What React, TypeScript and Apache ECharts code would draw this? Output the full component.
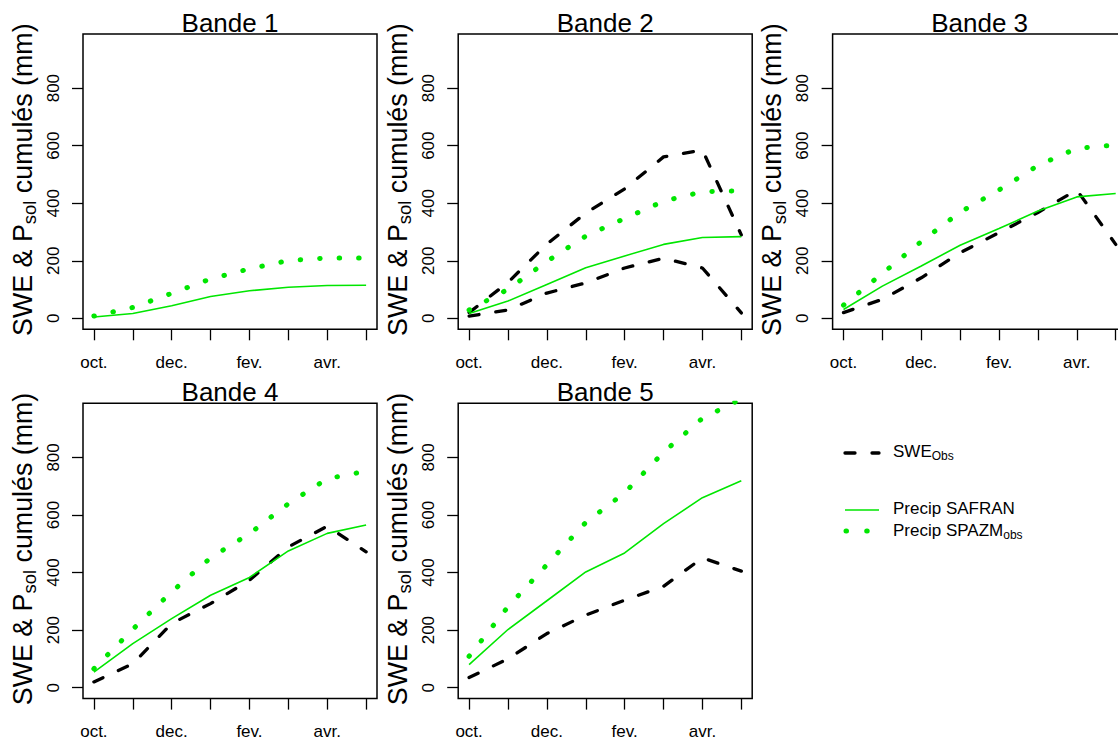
import React, { useEffect, useRef } from 'react';
import * as echarts from 'echarts';

// ---------- data ----------
const monthLabels = ['oct.', 'nov.', 'dec.', 'janv.', 'fev.', 'mars', 'avr.', 'mai'];
const monthIdx = [0, 1, 2, 3, 4, 5, 6, 7];
const shownMonthIdx = [0, 2, 4, 6];
const yTicks = [0, 200, 400, 600, 800];
const bandTitles = ['Bande 1', 'Bande 2', 'Bande 3', 'Bande 4', 'Bande 5'];

const band1Safran = [5, 17, 44, 76, 96, 108, 114, 115];
const band1Spazm = [8, 38, 87, 137, 172, 201, 210, 210];

const band2SweA = [20, 125, 258, 366, 450, 561, 585, 290];
const band2SweB = [8, 29, 88, 123, 175, 209, 175, 19];
const band2Safran = [17, 60, 118, 176, 217, 257, 281, 284];
const band2Spazm = [29, 101, 198, 286, 347, 407, 440, 443];

const band3Swe = [20, 66, 141, 228, 298, 368, 446, 257];
const band3Safran = [31, 112, 182, 254, 312, 373, 422, 434];
const band3Spazm = [46, 156, 267, 369, 446, 531, 591, 602];

const band4Swe = [20, 83, 223, 292, 373, 489, 561, 472];
const band4Safran = [54, 153, 240, 321, 383, 475, 536, 565];
const band4Spazm = [66, 203, 333, 451, 535, 639, 726, 752];

const band5Swe = [35, 100, 188, 252, 304, 352, 451, 405];
const band5Safran = [80, 202, 302, 402, 468, 570, 660, 719];
const band5Spazm = [109, 281, 427, 574, 677, 818, 936, 1003];

const bandSwe = [[], [band2SweA, band2SweB], [band3Swe], [band4Swe], [band5Swe]];
const bandSafran = [band1Safran, band2Safran, band3Safran, band4Safran, band5Safran];
const bandSpazm = [band1Spazm, band2Spazm, band3Spazm, band4Spazm, band5Spazm];

const legendLabels = ['SWE', 'Obs', 'Precip SAFRAN', 'Precip SPAZM', 'obs'];

// ---------- layout / style ----------
const FONT = '"Liberation Sans", Arial, Helvetica, sans-serif';
const GREEN = '#00e600';
const X_MIN = -0.28;
const X_MAX = 7.28;
const Y_MIN = -38;
const Y_MAX = 988;
const BOX_W = 294;
const BOX_H = 295.3;
const colLefts = [83, 458.2, 832.6];
const rowTops = [34, 403.3];
const panelPos = [
  [0, 0],
  [0, 1],
  [0, 2],
  [1, 0],
  [1, 1],
];

const dashStyle = { color: '#000', width: 3.3, type: [10, 17], cap: 'round' };
const dotStyle = { color: GREEN, width: 5, type: [0.5, 19], cap: 'round' };
const solidStyle = { color: GREEN, width: 1.6, type: 'solid' };

function pairs(vals: number[]) {
  return vals.map((v, i) => [monthIdx[i], v]);
}

function buildOption() {
  const grid: any[] = [];
  const xAxis: any[] = [];
  const yAxis: any[] = [];
  const series: any[] = [];
  const graphic: any[] = [];

  panelPos.forEach(([r, c], i) => {
    const left = colLefts[c];
    const top = rowTops[r];
    grid.push({
      left,
      top,
      width: BOX_W,
      height: BOX_H,
      show: true,
      borderColor: '#000',
      borderWidth: 1.5,
      backgroundColor: 'transparent',
      containLabel: false,
      outerBoundsMode: 'none',
    });
    xAxis.push({
      gridIndex: i,
      type: 'value',
      min: X_MIN,
      max: X_MAX,
      axisLine: { show: false, onZero: false },
      splitLine: { show: false },
      axisTick: {
        show: true,
        inside: false,
        length: 11,
        lineStyle: { color: '#000', width: 1.3 },
        customValues: monthIdx,
      },
      axisLabel: {
        customValues: shownMonthIdx,
        formatter: (v: number) => monthLabels[Math.round(v)],
        fontSize: 17,
        fontFamily: FONT,
        color: '#000',
        margin: 24.5,
      },
    });
    yAxis.push({
      gridIndex: i,
      type: 'value',
      min: Y_MIN,
      max: Y_MAX,
      axisLine: { show: false, onZero: false },
      splitLine: { show: false },
      axisTick: {
        show: true,
        inside: false,
        length: 11,
        lineStyle: { color: '#000', width: 1.3 },
        customValues: yTicks,
      },
      axisLabel: {
        customValues: yTicks,
        rotate: 90,
        fontSize: 17,
        fontFamily: FONT,
        color: '#000',
        margin: 21.5,
      },
    });

    bandSwe[i].forEach((vals) => {
      series.push({
        type: 'line',
        xAxisIndex: i,
        yAxisIndex: i,
        data: pairs(vals),
        showSymbol: false,
        symbol: 'none',
        lineStyle: dashStyle,
        z: 2,
      });
    });
    series.push({
      type: 'line',
      xAxisIndex: i,
      yAxisIndex: i,
      data: pairs(bandSafran[i]),
      showSymbol: false,
      symbol: 'none',
      lineStyle: solidStyle,
      z: 3,
    });
    series.push({
      type: 'line',
      xAxisIndex: i,
      yAxisIndex: i,
      data: pairs(bandSpazm[i]),
      showSymbol: false,
      symbol: 'none',
      lineStyle: dotStyle,
      z: 3,
    });

    // title
    graphic.push({
      type: 'text',
      x: left + BOX_W / 2,
      y: top - 11.5,
      style: {
        text: bandTitles[i],
        fontSize: 26,
        fontFamily: FONT,
        fill: '#000',
        align: 'center',
        verticalAlign: 'middle',
      },
    });
    // y-axis title
    graphic.push({
      type: 'text',
      x: left - 60.5,
      y: top + BOX_H / 2 - 2,
      rotation: Math.PI / 2,
      style: {
        text: '{a|SWE & P}{s|sol}{a| cumulés (mm)}',
        fontFamily: FONT,
        fill: '#000',
        align: 'center',
        verticalAlign: 'middle',
        rich: {
          a: { fontSize: 26.8, lineHeight: 33, fontFamily: FONT, fill: '#000' },
          s: { fontSize: 18.5, lineHeight: 18.5, verticalAlign: 'bottom', fontFamily: FONT, fill: '#000' },
        },
      },
    });
  });

  // legend
  const legRich = {
    a: { fontSize: 17, lineHeight: 22, fontFamily: FONT, fill: '#000' },
    s: { fontSize: 12, lineHeight: 12, verticalAlign: 'bottom', fontFamily: FONT, fill: '#000' },
  };
  graphic.push(
    {
      type: 'line',
      shape: { x1: 845, y1: 453, x2: 879, y2: 453 },
      style: { stroke: '#000', lineWidth: 3.3, lineDash: [10, 17], lineCap: 'round' },
    },
    {
      type: 'text',
      x: 893,
      y: 451,
      style: {
        text: `{a|${legendLabels[0]}}{s|${legendLabels[1]}}`,
        rich: legRich,
        align: 'left',
        verticalAlign: 'middle',
      },
    },
    {
      type: 'line',
      shape: { x1: 845, y1: 510, x2: 879, y2: 510 },
      style: { stroke: GREEN, lineWidth: 1.6 },
    },
    {
      type: 'text',
      x: 893,
      y: 508.5,
      style: {
        text: `{a|${legendLabels[2]}}`,
        rich: legRich,
        align: 'left',
        verticalAlign: 'middle',
      },
    },
    {
      type: 'line',
      shape: { x1: 846, y1: 531, x2: 879, y2: 531 },
      style: { stroke: GREEN, lineWidth: 5, lineDash: [0.5, 20.2], lineCap: 'round' },
    },
    {
      type: 'text',
      x: 893,
      y: 530,
      style: {
        text: `{a|${legendLabels[3]}}{s|${legendLabels[4]}}`,
        rich: legRich,
        align: 'left',
        verticalAlign: 'middle',
      },
    }
  );

  return {
    animation: false,
    backgroundColor: '#fff',
    grid,
    xAxis,
    yAxis,
    series,
    graphic,
  };
}

export default function App() {
  const ref = useRef<HTMLDivElement>(null);
  useEffect(() => {
    if (!ref.current) return;
    const chart = echarts.init(ref.current, undefined, { renderer: 'svg' });
    chart.setOption(buildOption() as any);
    return () => chart.dispose();
  }, []);
  return (
    <div
      ref={ref}
      style={{ position: 'absolute', left: 0, top: 0, width: 1118, height: 740, background: '#fff' }}
    />
  );
}
